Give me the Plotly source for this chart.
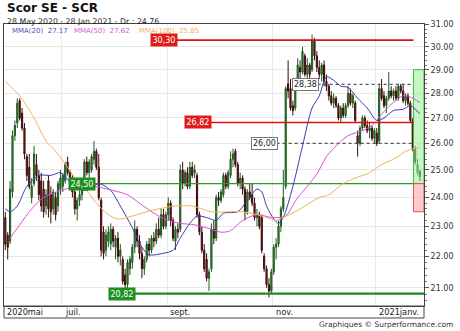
import math
import pandas as pd
import plotly.graph_objects as go

# ---------------- data ----------------
holidays = ["2020-12-25", "2021-01-01"]
dates = [d for d in pd.bdate_range("2020-05-28", "2021-01-28")
         if d.strftime("%Y-%m-%d") not in holidays]

opens = [23.3, 22.7, 22.5, 24.2, 26.3, 26.8, 27.7, 27.2, 26.6, 25.5,
         25.1, 24.0, 24.5, 25.2, 24.8, 24.6, 24.3, 23.7, 24.6, 24.1,
         23.6, 24.0, 23.7, 24.3, 24.4, 24.6, 25.3, 24.9, 24.5, 24.2,
         23.6, 23.9, 24.1, 24.4, 25.3, 24.9, 25.0, 25.4, 25.7, 25.1,
         23.9, 22.8, 22.2, 22.5, 22.4, 22.9, 22.3, 22.6, 22.0, 21.9,
         21.4, 21.1, 21.6, 21.8, 22.3, 22.9, 22.5, 22.1, 21.6, 21.9,
         22.4, 22.2, 22.6, 22.5, 22.9, 22.7, 23.4, 23.0, 23.4, 23.8,
         23.2, 22.5, 22.9, 22.9, 25.0, 24.5, 24.9, 24.4, 25.1, 24.9,
         24.8, 23.4, 22.8, 22.2, 21.9, 21.3, 21.6, 22.9, 22.6, 24.0,
         23.9, 24.1, 24.8, 24.4, 24.8, 25.4, 25.7, 25.2, 24.5, 24.7,
         24.3, 23.5, 24.2, 24.1, 23.8, 23.3, 23.4, 23.3, 22.0, 21.6,
         21.1, 20.9, 21.5, 22.3, 22.4, 23.0, 23.6, 24.4, 28.4, 28.2,
         27.5, 27.4, 28.3, 29.1, 28.9, 29.6, 28.8, 29.2, 29.0, 30.3,
         29.6, 29.1, 28.8, 29.2, 28.5, 28.3, 27.9, 27.6, 27.8, 27.5,
         27.0, 27.4, 27.1, 27.5, 28.0, 27.6, 27.6, 26.3, 26.0, 26.6,
         27.0, 26.7, 26.5, 26.6, 26.2, 26.4, 26.1, 28.2, 27.9, 27.5,
         27.8, 28.1, 27.9, 28.1, 27.8, 28.3, 28.1, 27.7, 27.9, 27.6,
         26.9, 25.8, 24.9, 24.95]
highs = [23.5, 22.8, 24.6, 26.5, 26.9, 27.8, 27.8, 27.4, 26.8, 25.6,
         25.6, 24.7, 25.9, 25.6, 25.0, 24.9, 24.6, 24.3, 24.8, 24.4,
         24.3, 24.2, 24.6, 25.0, 24.9, 25.3, 25.5, 25.0, 24.8, 24.4,
         24.0, 24.3, 24.5, 25.4, 25.5, 25.4, 25.6, 26.1, 25.8, 25.6,
         24.0, 23.0, 22.9, 23.0, 23.1, 23.0, 22.7, 22.8, 22.4, 22.0,
         21.6, 21.9, 22.0, 22.4, 23.2, 23.0, 22.7, 22.3, 22.0, 22.5,
         22.6, 22.7, 22.8, 23.1, 23.3, 23.6, 23.6, 23.5, 24.0, 23.9,
         23.3, 23.0, 23.1, 25.2, 25.3, 25.0, 25.1, 25.3, 25.3, 25.2,
         24.9, 23.5, 23.0, 22.4, 22.1, 21.6, 23.1, 23.2, 24.1, 24.2,
         24.3, 24.9, 24.9, 25.0, 25.7, 25.8, 25.8, 25.3, 24.9, 24.8,
         24.4, 24.3, 24.5, 24.5, 24.0, 23.6, 23.5, 23.4, 22.1, 21.7,
         21.3, 21.6, 22.4, 22.6, 23.2, 23.7, 25.0, 28.3, 29.4, 28.6,
         27.7, 28.5, 29.5, 29.4, 30.0, 29.7, 29.5, 29.3, 30.55, 30.4,
         29.8, 29.4, 29.3, 29.4, 28.8, 28.4, 28.1, 28.0, 27.9, 27.6,
         27.5, 27.6, 27.6, 28.3, 28.2, 28.0, 27.7, 26.5, 26.7, 27.1,
         27.1, 26.9, 26.8, 26.7, 26.6, 26.6, 28.4, 28.6, 28.1, 27.9,
         28.9, 28.3, 28.2, 28.3, 28.4, 28.4, 28.4, 28.0, 28.0, 27.7,
         27.0, 25.9, 25.4, 25.0]
lows = [22.2, 21.9, 22.4, 24.0, 26.1, 26.6, 26.9, 26.5, 25.4, 24.6,
        24.3, 23.8, 24.4, 24.6, 23.9, 23.5, 23.3, 23.4, 23.3, 23.1,
        23.4, 23.2, 23.5, 24.1, 24.2, 24.5, 24.8, 24.3, 24.0, 23.4,
        23.2, 23.7, 23.9, 24.3, 24.8, 24.7, 24.9, 25.2, 25.0, 23.9,
        22.0, 21.9, 22.0, 22.3, 22.2, 22.3, 21.9, 21.8, 21.7, 21.1,
        20.82, 20.9, 21.4, 21.6, 22.1, 22.3, 21.9, 21.3, 21.4, 21.8,
        22.0, 22.1, 22.3, 22.4, 22.6, 22.6, 22.9, 22.9, 23.2, 23.0,
        22.5, 22.2, 22.6, 22.8, 24.3, 24.4, 24.3, 24.3, 24.7, 24.7,
        23.3, 22.7, 22.1, 21.5, 21.2, 20.9, 21.5, 22.4, 22.5, 23.7,
        23.8, 24.0, 24.3, 24.3, 24.7, 25.1, 25.1, 24.4, 24.3, 24.1,
        23.2, 23.4, 23.9, 23.7, 23.2, 23.0, 22.9, 22.1, 21.5, 21.0,
        20.7, 20.8, 21.4, 21.9, 22.3, 22.8, 23.5, 24.3, 27.8, 27.3,
        27.1, 27.3, 28.1, 28.6, 28.8, 28.7, 28.6, 28.6, 28.9, 29.4,
        28.9, 28.6, 28.5, 28.3, 28.1, 27.7, 27.5, 27.4, 27.4, 26.9,
        26.8, 27.0, 27.0, 27.4, 27.5, 27.4, 26.8, 25.5, 25.9, 26.5,
        26.6, 26.4, 26.2, 26.1, 26.0, 25.9, 26.0, 27.7, 27.4, 27.2,
        27.7, 27.8, 27.7, 27.7, 27.7, 28.0, 27.6, 27.5, 27.5, 26.8,
        25.7, 25.2, 24.8, 24.6]
closes = [22.4, 22.3, 24.3, 26.3, 26.7, 27.6, 27.0, 26.6, 25.6, 24.8,
          24.4, 24.4, 25.6, 24.8, 24.1, 23.7, 23.5, 24.1, 23.6, 23.5,
          24.2, 23.4, 24.5, 24.7, 24.8, 25.2, 24.9, 24.5, 24.2, 23.6,
          23.9, 24.1, 24.4, 25.3, 24.9, 25.3, 25.5, 25.7, 25.1, 24.0,
          22.2, 22.1, 22.7, 22.8, 22.9, 22.5, 22.6, 22.0, 22.2, 21.2,
          21.1, 21.8, 21.9, 22.3, 22.9, 22.5, 22.1, 21.6, 21.9, 22.4,
          22.2, 22.6, 22.5, 22.9, 22.7, 23.4, 23.0, 23.4, 23.8, 23.2,
          22.6, 22.9, 22.8, 25.0, 24.5, 24.9, 24.4, 25.1, 24.8, 25.0,
          23.4, 22.8, 22.2, 21.6, 21.3, 21.5, 22.9, 22.6, 24.0, 23.9,
          24.2, 24.8, 24.4, 24.9, 25.4, 25.6, 25.2, 24.5, 24.7, 24.3,
          23.5, 24.2, 24.0, 23.8, 23.3, 23.4, 23.0, 22.2, 21.6, 21.1,
          20.9, 21.5, 22.3, 22.4, 23.0, 23.6, 24.0, 28.2, 28.1, 27.4,
          27.3, 28.3, 29.2, 28.9, 29.8, 28.8, 29.2, 28.8, 30.3, 29.6,
          29.1, 28.8, 29.2, 28.5, 28.3, 27.9, 27.6, 27.8, 27.5, 27.0,
          27.4, 27.1, 27.5, 28.0, 27.6, 27.9, 26.9, 26.0, 26.6, 27.0,
          26.7, 26.5, 26.6, 26.2, 26.5, 26.0, 28.2, 27.8, 27.5, 27.8,
          28.1, 27.9, 28.1, 27.8, 28.3, 28.1, 27.7, 27.9, 27.6, 26.9,
          25.8, 25.3, 25.2, 24.76]

# moving averages (trading-day number, value)
mma20_days = [0, 2, 5, 9, 14, 19, 23, 26, 30, 34, 39, 44, 48, 53, 57, 60, 66, 70, 73,
              77, 80, 84, 88, 91, 97, 101, 105, 107, 109, 112, 114, 116, 120, 124,
              128, 131, 134, 137, 140, 143, 147, 151, 155, 158, 162, 166, 169, 171, 173]
mma20_vals = [23.6, 23.5, 23.7, 24.4, 24.8, 24.8, 24.9, 24.65, 24.35, 24.25, 24.5, 24.25,
              23.7, 22.95, 22.3, 22.05, 22.1, 22.2, 22.6, 23.1, 23.35, 23.3, 23.2, 23.45,
              23.5, 23.9, 24.3, 24.2, 23.7, 23.25, 23.1, 23.3, 24.4, 25.9, 27.4, 27.9,
              28.7, 28.55, 28.3, 28.25, 27.8, 27.4, 26.9, 27.0, 27.3, 27.35, 27.5, 27.35,
              27.17]
mma50_days = [2, 6, 11, 16, 23, 30, 37, 45, 51, 56, 62, 68, 73, 79, 86, 90, 94, 99,
              105, 111, 114, 117, 122, 126, 130, 134, 138, 143, 149, 153, 157, 161,
              166, 169, 173]
mma50_vals = [22.6, 23.05, 23.6, 24.0, 24.25, 24.4, 24.4, 24.25, 24.1, 23.8, 23.45,
              23.2, 23.1, 23.05, 22.9, 22.8, 22.85, 23.2, 23.4, 23.3, 23.3, 23.35, 24.0,
              24.4, 24.85, 25.5, 25.9, 26.3, 26.5, 26.7, 27.15, 27.55, 27.9, 27.85,
              27.62]
mma100_days = [0, 6, 12, 17, 21, 26, 30, 34, 38, 43, 47, 53, 59, 64, 71, 78, 82, 86,
               93, 99, 105, 109, 113, 116, 121, 127, 131, 135, 141, 146, 152, 157,
               163, 167, 170, 173]
mma100_vals = [28.5, 27.9, 27.0, 26.1, 25.7, 25.1, 24.6, 24.25, 23.8, 23.4, 23.25,
               23.35, 23.5, 23.6, 23.7, 23.7, 23.6, 23.5, 23.5, 23.5, 23.4, 23.3, 23.2,
               23.3, 23.5, 23.8, 24.0, 24.1, 24.5, 24.7, 24.9, 25.2, 25.45, 25.7, 25.8,
               25.85]

mma_names = ["MMA(20)", "MMA(50)", "MMA(100)"]
mma_last = [27.17, 27.62, 25.85]

resistances = [30.30, 26.82]
supports = [24.50, 20.82]
pivots = [28.38, 26.00]
target_zone = [24.50, 29.00]
stop_zone = [23.50, 24.50]

ticker_title = "Scor SE - SCR"
subtitle = "28 May 2020 - 28 Jan 2021 - Dr : 24.76"
footer = "Graphiques © Surperformance.com"
month_labels = {(2020, 5): "2020mai", (2020, 7): "juil.", (2020, 9): "sept.",
                (2020, 11): "nov.", (2021, 1): "2021janv."}
price_ticks = list(range(21, 32))

# ---------------- layout constants ----------------
W, H = 460, 331
ML, MR, MT, MB = 4, 36, 24, 25
PW, PH = W - ML - MR, H - MT - MB
X_MIN, X_MAX = -0.54, 174.7
Y_MIN, Y_MAX = 20.44, 31.03
FONT = "DejaVu Sans"
ZONE_X0 = 170.3


def pxx(px):
    return (px - ML) / PW


def pxy(py):
    return (H - MB - py) / PH


def fr(v):
    return f"{v:.2f}".replace(".", ",")


n = len(dates)
x = list(range(n))

# month starts
month_start = {}
for i, d in enumerate(dates):
    key = (d.year, d.month)
    if key not in month_start:
        month_start[key] = i

fig = go.Figure()

# zones
for (lo, hi), fill, edge in [(target_zone, "rgba(150,240,150,0.55)", "#3cb83c"),
                             (stop_zone, "rgba(250,170,170,0.6)", "#e05050")]:
    fig.add_trace(go.Scatter(x=[ZONE_X0, X_MAX, X_MAX, ZONE_X0, ZONE_X0],
                             y=[lo, lo, hi, hi, lo], mode="lines", fill="toself",
                             fillcolor=fill, line=dict(color=edge, width=1),
                             hoverinfo="skip", showlegend=False))

# level lines with label positions (trading-day number of label centre)
level_specs = [
    (resistances[0], 66.3, "#dd1111", "solid", 1.6, ZONE_X0),
    (resistances[1], 80.3, "#dd1111", "solid", 1.6, ZONE_X0),
    (supports[0], 32.0, "#2a9a2a", "solid", 1.4, ZONE_X0),
    (supports[1], 48.6, "#1f8a1f", "solid", 2.2, X_MAX),
    (pivots[0], 125.3, "#555555", "dot", 1.2, ZONE_X0),
    (pivots[1], 108.2, "#555555", "dot", 1.2, ZONE_X0),
]
for v, xl, col, dash, wd, xe in level_specs:
    fig.add_trace(go.Scatter(x=[xl, xe], y=[v, v], mode="lines",
                             line=dict(color=col, width=wd, dash=dash),
                             hoverinfo="skip", showlegend=False))

fig.add_trace(go.Candlestick(
    x=x, open=opens, high=highs, low=lows, close=closes,
    increasing=dict(line=dict(color="#1f5a1f", width=1), fillcolor="#2f8f2f"),
    decreasing=dict(line=dict(color="#3a0c0c", width=1), fillcolor="#8b1a1a"),
    whiskerwidth=0, showlegend=False, hoverinfo="skip"))

mma_colors = ["#3a3ab4", "#d94fd9", "#f0b45a"]
for days, vals, col in [(mma20_days, mma20_vals, mma_colors[0]),
                        (mma50_days, mma50_vals, mma_colors[1]),
                        (mma100_days, mma100_vals, mma_colors[2])]:
    fig.add_trace(go.Scatter(x=days, y=vals, mode="lines",
                             line=dict(color=col, width=1, shape="spline", smoothing=0.8),
                             hoverinfo="skip", showlegend=False))

ann = []
# level label boxes
for v, xl, col, dash, wd, xe in level_specs:
    if dash == "dot":
        ann.append(dict(x=xl, y=math.log10(v), xref="x", yref="y", text=fr(v),
                        showarrow=False, font=dict(family=FONT, size=8, color="#222"),
                        bgcolor="white", bordercolor="#777", borderwidth=1, borderpad=1))
    else:
        bg = "#e01b1b" if col == "#dd1111" else "#1f8f1f"
        ann.append(dict(x=xl, y=math.log10(v), xref="x", yref="y", text=fr(v),
                        showarrow=False, font=dict(family=FONT, size=8, color="white"),
                        bgcolor=bg, borderpad=1.5))

# titles
ann.append(dict(x=pxx(5), y=pxy(8), xref="paper", yref="paper", xanchor="left",
                yanchor="middle", text="<b>" + ticker_title + "</b>", showarrow=False,
                font=dict(family=FONT, size=12, color="#111")))
ann.append(dict(x=pxx(5), y=pxy(21.5), xref="paper", yref="paper", xanchor="left",
                yanchor="middle", text=subtitle, showarrow=False,
                font=dict(family=FONT, size=7.8, color="#222")))
# MMA legend
leg_x = [10, 72, 137]
leg_txt_cols = ["#5050c0", "#d060d0", "#f0b060"]
for name, val, px_, c in zip(mma_names, mma_last, leg_x, leg_txt_cols):
    ann.append(dict(x=pxx(px_), y=pxy(30.5), xref="paper", yref="paper", xanchor="left",
                    yanchor="middle", text=f"{name}  {val:.2f}", showarrow=False,
                    font=dict(family=FONT, size=7, color=c)))
# month labels
grid_x = []
for key, lab in month_labels.items():
    i0 = month_start[key]
    bx = i0 - 0.5
    if i0 > 0:
        grid_x.append(bx)
    ann.append(dict(x=bx, y=pxy(312), xref="x", yref="paper", xanchor="left",
                    yanchor="middle", xshift=1, text=lab, showarrow=False,
                    font=dict(family=FONT, size=8.2, color="#222")))
# footer
ann.append(dict(x=pxx(455), y=pxy(324.5), xref="paper", yref="paper", xanchor="right",
                yanchor="middle", text=footer, showarrow=False,
                font=dict(family=FONT, size=7.5, color="#333")))

minor_vals = [round(a + b / 5, 1) for a in range(20, 31) for b in range(1, 5)]

fig.update_layout(
    width=W, height=H, autosize=False,
    margin=dict(l=ML, r=MR, t=MT, b=MB, pad=0),
    paper_bgcolor="white", plot_bgcolor="white",
    showlegend=False,
    annotations=ann,
    shapes=[dict(type="rect", xref="paper", yref="paper", x0=0, x1=1,
                 y0=-12 / PH, y1=0, line=dict(color="#444", width=1))],
    xaxis=dict(range=[X_MIN, X_MAX], tickvals=grid_x, showticklabels=False, ticks="",
               showgrid=True, gridcolor="#e8e8e8", gridwidth=1, zeroline=False,
               showline=True, mirror=True, linecolor="#444", linewidth=1,
               rangeslider=dict(visible=False), fixedrange=True),
    yaxis=dict(type="log", range=[math.log10(Y_MIN), math.log10(Y_MAX)], side="right",
               tickvals=price_ticks, ticktext=[f"{v:.2f}" for v in price_ticks],
               ticks="outside", ticklen=4, tickcolor="#555",
               tickfont=dict(family=FONT, size=8, color="#333"),
               showgrid=True, gridcolor="#e8e8e8", zeroline=False,
               showline=True, mirror=True, linecolor="#444", linewidth=1,
               minor=dict(tickvals=minor_vals, ticks="outside", ticklen=2,
                          tickcolor="#777", showgrid=False),
               fixedrange=True),
)

fig.write_html("out.html", config={"displayModeBar": False})
